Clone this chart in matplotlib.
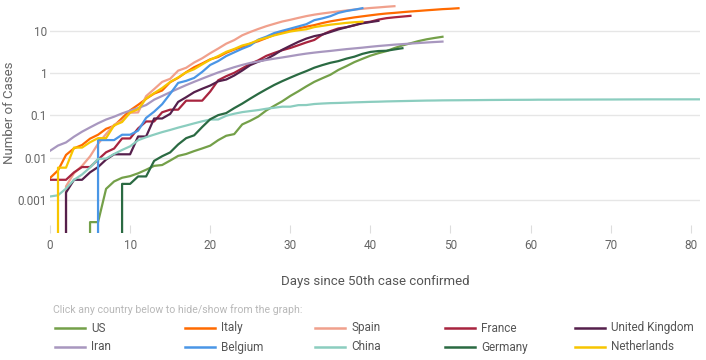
import matplotlib
matplotlib.use("Agg")
import matplotlib.pyplot as plt
from matplotlib.lines import Line2D
import numpy as np

# values per day since the 50th case (0 = nothing yet, drawn off the bottom)
us = [0, 0, 0, 0, 0, 0.0003, 0.0003, 0.00183, 0.00274, 0.00335, 0.00366, 0.00427,
      0.00518, 0.0064, 0.0067, 0.00854, 0.011, 0.0122, 0.0143, 0.0165, 0.0192, 0.0259,
      0.0329, 0.036, 0.061, 0.0744, 0.0936, 0.130, 0.168, 0.215, 0.287, 0.369, 0.482,
      0.618, 0.752, 0.908, 1.181, 1.450, 1.807, 2.161, 2.563, 2.933, 3.288, 3.879,
      4.480, 5.024, 5.666, 6.239, 6.713, 7.174]
italy = [0.0033, 0.005, 0.0116, 0.0166, 0.0199, 0.0281, 0.0348, 0.048, 0.0563, 0.0861,
         0.131, 0.177, 0.245, 0.326, 0.386, 0.606, 0.767, 1.045, 1.37, 1.68, 2.10, 2.39,
         3.00, 3.57, 4.14, 4.93, 5.64, 6.68, 7.99, 9.07, 10.06, 11.29, 12.42, 13.52,
         15.12, 16.59, 17.85, 19.19, 20.58, 21.78, 23.04, 24.31, 25.43, 26.30, 27.36,
         28.36, 29.25, 30.26, 31.21, 32.23, 32.95, 33.88]
spain = [0, 0, 0.0021, 0.0043, 0.0064, 0.0107, 0.0213, 0.0362, 0.0597, 0.0746, 0.115,
         0.117, 0.284, 0.416, 0.616, 0.729, 1.136, 1.328, 1.770, 2.224, 2.932, 3.778,
         4.928, 5.987, 7.776, 9.307, 10.96, 12.75, 14.51, 16.45, 18.05, 20.01, 22.06,
         23.88, 25.47, 26.95, 28.45, 29.95, 31.54, 32.94, 34.29, 35.41, 36.69, 37.86]
france = [0.003, 0.003, 0.003, 0.0045, 0.006, 0.006, 0.009, 0.0134, 0.0164, 0.0284,
          0.0284, 0.049, 0.0716, 0.0716, 0.118, 0.136, 0.136, 0.222, 0.222, 0.222,
          0.364, 0.673, 0.840, 1.009, 1.287, 1.645, 1.99, 2.534, 2.981, 3.458, 3.897,
          4.522, 5.272, 6.034, 8.057, 9.731, 11.30, 12.08, 13.32, 15.44, 16.25, 18.25,
          19.72, 20.67, 21.51, 22.37]
uk = [0, 0, 0.0015, 0.003, 0.003, 0.0045, 0.006, 0.009, 0.012, 0.012, 0.012, 0.0316,
      0.0316, 0.0842, 0.0842, 0.108, 0.2075, 0.268, 0.352, 0.424, 0.505, 0.636, 0.701,
      0.872, 1.144, 1.535, 1.851, 2.122, 2.696, 3.544, 4.4, 5.43, 6.496, 7.433, 8.098,
      9.28, 10.69, 12.02, 13.49, 14.88, 15.98, 17.04]
iran = [0.0145, 0.0193, 0.0229, 0.0313, 0.041, 0.0518, 0.065, 0.0795, 0.0928, 0.111,
        0.129, 0.149, 0.175, 0.234, 0.286, 0.351, 0.427, 0.517, 0.619, 0.736, 0.872,
        1.03, 1.19, 1.37, 1.55, 1.73, 1.87, 2.03, 2.18, 2.33, 2.50, 2.69, 2.87, 3.03,
        3.18, 3.32, 3.49, 3.66, 3.81, 3.97, 4.16, 4.34, 4.50, 4.67, 4.81, 4.95, 5.10,
        5.25, 5.39, 5.52]
belgium = [0, 0, 0, 0, 0, 0, 0.026, 0.026, 0.026, 0.0348, 0.0348, 0.0435, 0.087, 0.122,
           0.183, 0.322, 0.583, 0.652, 0.765, 1.061, 1.548, 1.913, 2.513, 3.07, 3.748,
           4.461, 6.13, 7.2, 8.79, 9.94, 11.16, 12.58, 14.19, 17.7, 19.48, 21.94, 26.25,
           29.1, 31.3, 33.94]
china = [0.00121, 0.00129, 0.00186, 0.003, 0.004, 0.00586, 0.00936, 0.0095, 0.0122,
         0.0152, 0.0185, 0.0258, 0.0304, 0.035, 0.0401, 0.0451, 0.0512, 0.0574, 0.0646,
         0.0722, 0.0794, 0.0797, 0.0977, 0.109, 0.119, 0.126, 0.133, 0.143, 0.151, 0.160,
         0.160, 0.174, 0.175, 0.185, 0.190, 0.194, 0.196, 0.199, 0.2025, 0.205, 0.208,
         0.210, 0.213, 0.215, 0.217, 0.219, 0.221, 0.223, 0.224, 0.2256, 0.2264, 0.227,
         0.228, 0.2285, 0.2295, 0.2304, 0.231, 0.2318, 0.232, 0.2324, 0.2328, 0.234,
         0.234, 0.2344, 0.2346, 0.235, 0.2354, 0.2356, 0.236, 0.2363, 0.2364, 0.2369,
         0.2373, 0.2376, 0.2379, 0.2381, 0.2382, 0.2382, 0.2383, 0.2384, 0.2385, 0.2386,
         0.2386]
germany = [0, 0, 0, 0, 0, 0, 0, 0, 0, 0.0024, 0.0024, 0.0036, 0.0036, 0.0084, 0.0108,
           0.0133, 0.0205, 0.0289, 0.0337, 0.053, 0.0807, 0.101, 0.113, 0.148, 0.189,
           0.248, 0.322, 0.412, 0.522, 0.642, 0.777, 0.934, 1.108, 1.334, 1.536, 1.740,
           1.908, 2.181, 2.429, 2.830, 3.141, 3.30, 3.35, 3.60, 3.848]
netherlands = [0, 0.0058, 0.0058, 0.0173, 0.0173, 0.0231, 0.0289, 0.0289, 0.0578, 0.0694,
               0.116, 0.139, 0.249, 0.335, 0.44, 0.613, 0.786, 1.035, 1.23, 1.6, 2.06,
               2.51, 3.16, 3.69, 4.46, 4.99, 6.0, 6.78, 7.74, 8.6, 9.54, 10.21, 10.79,
               12.14, 12.99, 13.85, 14.51, 15.28, 15.82, 16.32]

countries = ["US", "Italy", "Spain", "France", "United Kingdom",
             "Iran", "Belgium", "China", "Germany", "Netherlands"]
series = [us, italy, spain, france, uk, iran, belgium, china, germany, netherlands]
colors = ["#74a049", "#ff6a00", "#f0a08c", "#a8243f", "#55204c",
          "#a897bf", "#4a96e6", "#8bcdbf", "#2a6a42", "#f7c500"]

y_ticks = [0.001, 0.01, 0.1, 1, 10]
y_labels = ["0.001", "0.01", "0.1", "1", "10"]
x_ticks = list(range(0, 81, 10))

plt.rcParams["font.family"] = ["Roboto", "DejaVu Sans"]

W, H = 706, 360
fig = plt.figure(figsize=(W / 100, H / 100), dpi=100)
ax = fig.add_axes([50 / W, 1 - 233 / H, 650 / W, 233 / H])
ax.set_yscale("log", nonpositive="clip")

for vals, col in zip(series, colors):
    ax.plot(np.arange(len(vals)), vals, color=col, lw=1.6, solid_joinstyle="round")

ax.set_xlim(0, 81.15)
ax.set_ylim(1.66e-4, 53)
ax.set_yticks(y_ticks)
ax.set_yticklabels(y_labels)
ax.minorticks_off()
ax.set_xticks(x_ticks)
ax.grid(axis="y", color="#e6e6e6", lw=1)
ax.set_axisbelow(True)
for s in ax.spines.values():
    s.set_visible(False)
ax.tick_params(axis="y", length=0, pad=2, labelsize=8.5, labelcolor="#666666")
ax.tick_params(axis="x", direction="in", length=5.5, width=0.8, color="#dddddd",
               pad=4, labelsize=8.5, labelcolor="#666666")

fig.text(10 / W, 1 - 113 / H, "Number of Cases", rotation=90, ha="center", va="center",
         fontsize=9.5, color="#666666")
fig.text(375 / W, 1 - 282 / H, "Days since 50th case confirmed", ha="center",
         va="center", fontsize=9.5, color="#555555")
fig.text(53 / W, 1 - 310 / H, "Click any country below to hide/show from the graph:",
         ha="left", va="center", fontsize=7.6, color="#b8b8b8")

# legend laid out in two rows of five
for i, (name, col) in enumerate(zip(countries, colors)):
    x0 = 55 + 130 * (i % 5)
    yy = 1 - (328 + 19 * (i // 5)) / H
    fig.add_artist(Line2D([x0 / W, (x0 + 30) / W], [yy, yy], color=col, lw=1.8,
                          transform=fig.transFigure))
    fig.text((x0 + 36) / W, yy, name, ha="left", va="center", fontsize=8.5,
             color="#555555")

fig.savefig("out.png", dpi=100)
